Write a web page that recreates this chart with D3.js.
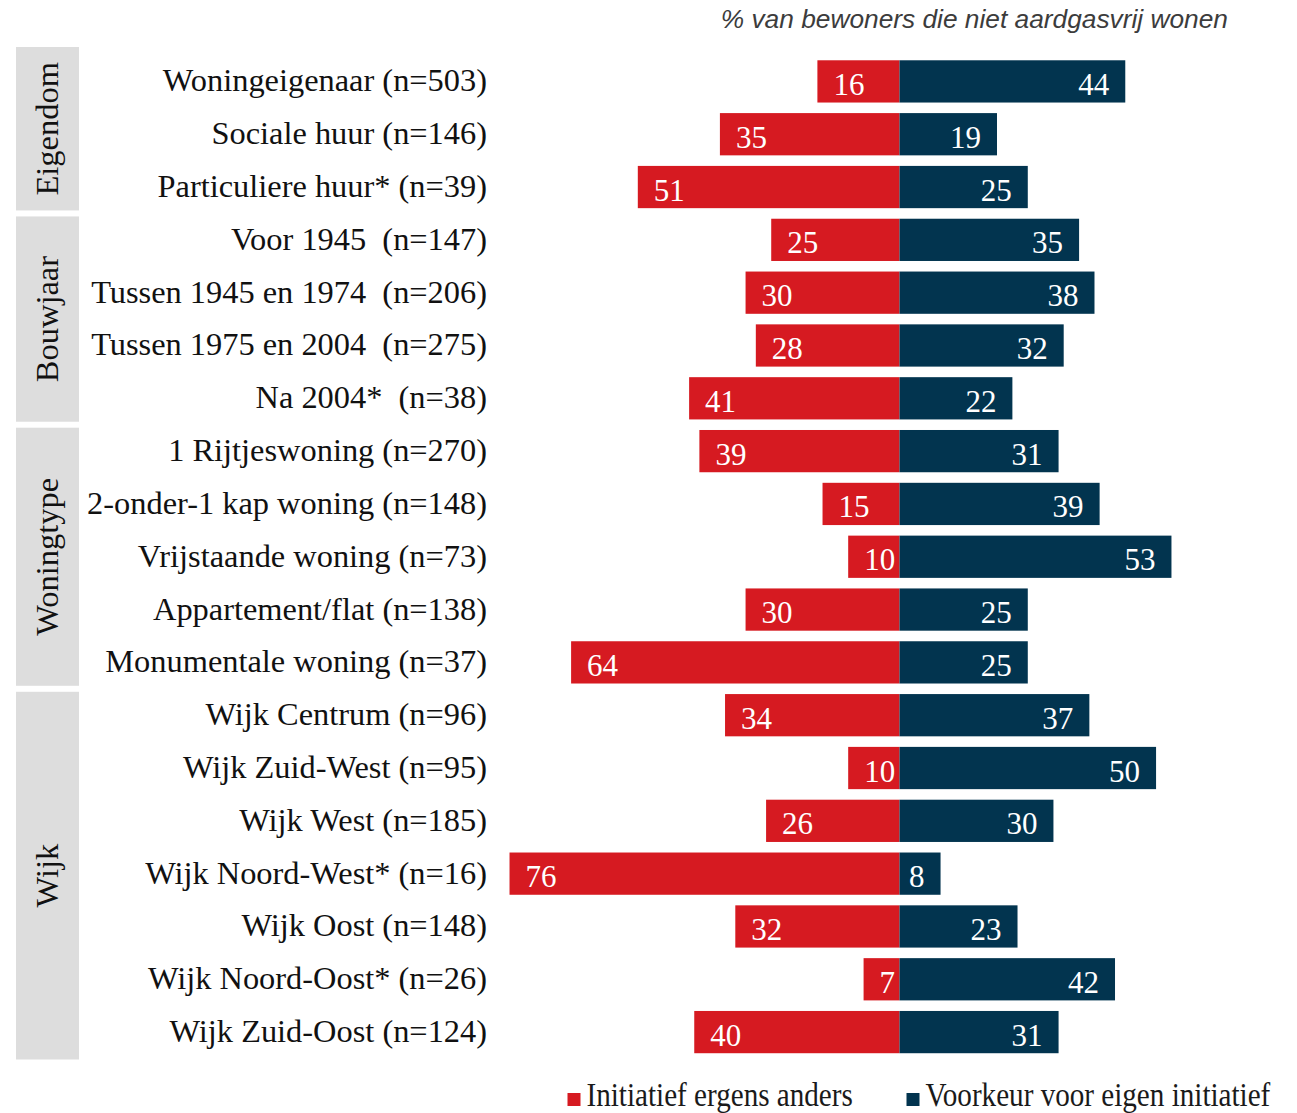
<!DOCTYPE html>
<html>
<head>
<meta charset="utf-8">
<script src="https://cdn.jsdelivr.net/npm/d3@7"></script>
<style>
  html, body { margin: 0; padding: 0; background: #fff; }
  svg { display: block; }
  text { white-space: pre; }
</style>
</head>
<body>
<svg id="chart" width="1297" height="1113"></svg>
<script>
// Row labels, top to bottom
const categories = [
  "Woningeigenaar (n=503)",
  "Sociale huur (n=146)",
  "Particuliere huur* (n=39)",
  "Voor 1945  (n=147)",
  "Tussen 1945 en 1974  (n=206)",
  "Tussen 1975 en 2004  (n=275)",
  "Na 2004*  (n=38)",
  "1 Rijtjeswoning (n=270)",
  "2-onder-1 kap woning (n=148)",
  "Vrijstaande woning (n=73)",
  "Appartement/flat (n=138)",
  "Monumentale woning (n=37)",
  "Wijk Centrum (n=96)",
  "Wijk Zuid-West (n=95)",
  "Wijk West (n=185)",
  "Wijk Noord-West* (n=16)",
  "Wijk Oost (n=148)",
  "Wijk Noord-Oost* (n=26)",
  "Wijk Zuid-Oost (n=124)"
];

// Group name and number of rows it covers
const groupNames = ["Eigendom", "Bouwjaar", "Woningtype", "Wijk"];
const groupSizes = [3, 4, 5, 7];

// Series: percentage of residents not living gas-free
const seriesNames = ["Initiatief ergens anders", "Voorkeur voor eigen initiatief"];
const elsewhere = [16, 35, 51, 25, 30, 28, 41, 39, 15, 10, 30, 64, 34, 10, 26, 76, 32, 7, 40];
const ownInitiative = [44, 19, 25, 35, 38, 32, 22, 31, 39, 53, 25, 25, 37, 50, 30, 8, 23, 42, 31];

const titleText = "% van bewoners die niet aardgasvrij wonen";

const RED = "#d61a21";
const NAVY = "#02344f";
const SERIF = "'Liberation Serif', 'Times New Roman', serif";

const svg = d3.select("#chart");

const x = d3.scaleLinear().domain([-80, 80]).range([489, 1310]);
const y = d3.scaleBand()
  .domain(d3.range(categories.length))
  .range([55, 1058.5])
  .paddingInner(0.2)
  .paddingOuter(0.1);
const step = y.step();

// Title
svg.append("text")
  .attr("x", 1228).attr("y", 28)
  .attr("text-anchor", "end")
  .attr("font-family", "'Liberation Sans', Arial, sans-serif")
  .attr("font-style", "italic")
  .attr("font-size", 26.3)
  .attr("fill", "#3c3c3c")
  .text(titleText);

// Grey group panels with rotated group names
let start = 0;
const groups = groupNames.map((name, i) => {
  const g = { name, first: start, last: start + groupSizes[i] - 1 };
  start += groupSizes[i];
  return g;
});
const edgeTop = idx => y.range()[0] + idx * step;
const panel = svg.append("g");
groups.forEach((g, i) => {
  let top = edgeTop(g.first) + 3;
  let bottom = edgeTop(g.last + 1) - 3;
  if (i === 0) top -= 11;
  if (i === groups.length - 1) bottom += 4;
  panel.append("rect")
    .attr("x", 16).attr("width", 63)
    .attr("y", top).attr("height", bottom - top)
    .attr("fill", "#dddddd");
  const cy = (top + bottom) / 2;
  panel.append("text")
    .attr("transform", `translate(58,${cy}) rotate(-90)`)
    .attr("text-anchor", "middle")
    .attr("font-family", SERIF)
    .attr("font-size", 32.5)
    .attr("fill", "#111")
    .text(g.name);
});

// Category labels
svg.append("g").selectAll("text")
  .data(categories)
  .join("text")
  .attr("x", 487)
  .attr("y", (d, i) => y(i) + y.bandwidth() / 2 + 10)
  .attr("text-anchor", "end")
  .attr("font-family", SERIF)
  .attr("font-size", 32.4)
  .attr("fill", "#111")
  .text(d => d);

// Bars
const bars = svg.append("g");
bars.selectAll("rect.left")
  .data(elsewhere)
  .join("rect")
  .attr("class", "left")
  .attr("x", d => x(-d))
  .attr("width", d => x(0) - x(-d))
  .attr("y", (d, i) => y(i))
  .attr("height", y.bandwidth())
  .attr("fill", RED);
bars.selectAll("rect.right")
  .data(ownInitiative)
  .join("rect")
  .attr("class", "right")
  .attr("x", x(0))
  .attr("width", d => x(d) - x(0))
  .attr("y", (d, i) => y(i))
  .attr("height", y.bandwidth())
  .attr("fill", NAVY);

// Value labels inside bars
const vals = svg.append("g")
  .attr("font-family", SERIF)
  .attr("font-size", 31)
  .attr("fill", "#fff");
vals.selectAll("text.left")
  .data(elsewhere)
  .join("text")
  .attr("class", "left")
  .attr("x", d => x(-d) + 16)
  .attr("y", (d, i) => y(i) + y.bandwidth() / 2 + 13.5)
  .attr("text-anchor", "start")
  .text(d => d);
vals.selectAll("text.right")
  .data(ownInitiative)
  .join("text")
  .attr("class", "right")
  .attr("x", d => x(d) - 16)
  .attr("y", (d, i) => y(i) + y.bandwidth() / 2 + 13.5)
  .attr("text-anchor", "end")
  .text(d => d);

// Legend
const legend = svg.append("g");
const legendItems = [
  { name: seriesNames[0], color: RED, x: x(0) - 332 },
  { name: seriesNames[1], color: NAVY, x: x(0) + 7 }
];
legendItems.forEach(it => {
  legend.append("rect")
    .attr("x", it.x).attr("y", 1093)
    .attr("width", 13).attr("height", 13)
    .attr("fill", it.color);
  legend.append("text")
    .attr("transform", `translate(${it.x + 19},1106) scale(0.87,1)`)
    .attr("font-family", SERIF)
    .attr("font-size", 33.5)
    .attr("fill", "#1a1a1a")
    .text(it.name);
});
</script>
</body>
</html>
